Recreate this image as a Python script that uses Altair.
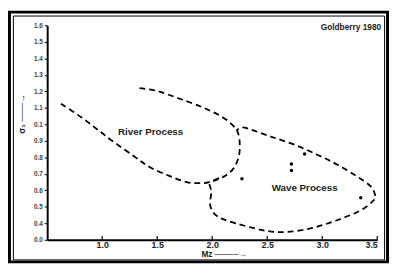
import altair as alt
import pandas as pd

# ---- data ----
x_ticks = [1.0, 1.5, 2.0, 2.5, 3.0, 3.5]
y_ticks = [0.3, 0.4, 0.5, 0.6, 0.7, 0.8, 0.9, 1.0, 1.1, 1.2, 1.3, 1.4, 1.5, 1.6]

river_lower_x = [0.625, 0.812, 0.964, 1.116, 1.295, 1.437, 1.616, 1.768, 1.884, 1.973, 2.098]
river_lower_y = [1.125, 1.042, 0.965, 0.888, 0.804, 0.739, 0.686, 0.650, 0.644, 0.650, 0.686]

river_upper_x = [1.339, 1.50, 1.705, 1.92, 2.098, 2.187, 2.232, 2.25, 2.241, 2.187, 2.098, 2.009]
river_upper_y = [1.220, 1.202, 1.155, 1.101, 1.042, 0.994, 0.953, 0.887, 0.804, 0.727, 0.680, 0.656]

wave_x = [1.973, 1.991, 1.982, 2.036, 2.152, 2.455, 2.661, 2.902, 3.134, 3.348, 3.464,
          3.482, 3.438, 3.312, 3.134, 2.955, 2.75, 2.545, 2.366, 2.277, 2.223]
wave_y = [0.638, 0.591, 0.508, 0.448, 0.413, 0.359, 0.347, 0.371, 0.419, 0.478, 0.537,
          0.567, 0.626, 0.686, 0.757, 0.816, 0.876, 0.923, 0.965, 0.982, 0.965]

sample_x = [2.84, 2.72, 2.72, 2.27, 3.35]
sample_y = [0.82, 0.76, 0.72, 0.67, 0.555]

labels_text = ["River Process", "Wave Process"]
labels_x = [1.44, 2.84]
labels_y = [0.953, 0.615]

source_text = ["Goldberry 1980"]
source_x = [3.536]
source_y = [1.588]

# ---- tables ----
curves = pd.concat([
    pd.DataFrame({"x": river_lower_x, "y": river_lower_y, "curve": "river_lower",
                  "i": range(len(river_lower_x))}),
    pd.DataFrame({"x": river_upper_x, "y": river_upper_y, "curve": "river_upper",
                  "i": range(len(river_upper_x))}),
    pd.DataFrame({"x": wave_x, "y": wave_y, "curve": "wave", "i": range(len(wave_x))}),
], ignore_index=True)
samples = pd.DataFrame({"x": sample_x, "y": sample_y})
labels = pd.DataFrame({"x": labels_x, "y": labels_y, "t": labels_text})
source = pd.DataFrame({"x": source_x, "y": source_y, "t": source_text})
ticks = pd.DataFrame({"x": x_ticks})
one = pd.DataFrame({"k": [0]})

FONT = "Liberation Sans"

x_scale = alt.Scale(domain=[0.5, 3.5], nice=False, zero=False)
y_scale = alt.Scale(domain=[0.3, 1.6], nice=False, zero=False)

X = alt.X("x:Q", scale=x_scale, axis=alt.Axis(
    values=x_ticks, format=".1f", title="Mz ────→", tickSize=0, labelPadding=1,
    labelFontSize=9, labelFontWeight="bold", labelColor="#222", labelFont=FONT,
    titleFont=FONT, titleFontSize=8.5, titleFontWeight="bold", titleColor="#222",
    titleX=157, titleY=14, titleAlign="left", titleBaseline="middle",
    domainColor="black", domainWidth=2, grid=False))
Y = alt.Y("y:Q", scale=y_scale, axis=alt.Axis(
    values=y_ticks,
    labelExpr="datum.value < 0.35 ? '0.0' : (abs(datum.value - 1.0) < 0.01 ? '0.1' : format(datum.value, '.1f'))",
    tickSize=3, tickColor="black", tickWidth=1, labelPadding=2,
    labelFontSize=6.5, labelFontWeight="bold", labelColor="#444", labelFont=FONT,
    title="σ₁ ───→", titleFont=FONT, titleFontSize=9, titleFontWeight="bold",
    titleColor="#222", titleAngle=270, titleX=-26, titleY=90,
    titleAlign="center", titleBaseline="middle",
    domainColor="black", domainWidth=2, grid=False))

lines = alt.Chart(curves).mark_line(
    color="black", strokeWidth=1.8, strokeDash=[6, 4], interpolate="cardinal"
).encode(x=X, y=Y, detail="curve:N", order="i:Q")

pts = alt.Chart(samples).mark_circle(color="black", size=12, opacity=1).encode(x=X, y=Y)

txt = alt.Chart(labels).mark_text(
    font=FONT, fontSize=10, fontWeight="bold", color="#222"
).encode(x=X, y=Y, text="t:N")

src = alt.Chart(source).mark_text(
    font=FONT, fontSize=8.5, fontWeight="bold", color="#222", align="right", baseline="middle"
).encode(x=X, y=Y, text="t:N")

xtk = alt.Chart(ticks).mark_rule(color="black", strokeWidth=1.2).encode(
    x=X, y=alt.value(219), y2=alt.value(215))

frame_outer = alt.Chart(one).mark_rect(filled=False, stroke="black", strokeWidth=3).encode(
    x=alt.value(-38.5), x2=alt.value(347.5), y=alt.value(-13.5), y2=alt.value(241.5))
frame_inner = alt.Chart(one).mark_rect(filled=False, stroke="black", strokeWidth=1).encode(
    x=alt.value(-34.5), x2=alt.value(344.5), y=alt.value(-9.5), y2=alt.value(239.5))

chart = alt.layer(frame_outer, frame_inner, lines, xtk, pts, txt, src).properties(
    width=337, height=219,
    padding={"left": 40, "top": 15, "right": 12, "bottom": 24},
    autosize="none",
    background="white",
).configure_view(stroke=None)

chart.save("out.html", embed_options={"renderer": "svg", "actions": False})
